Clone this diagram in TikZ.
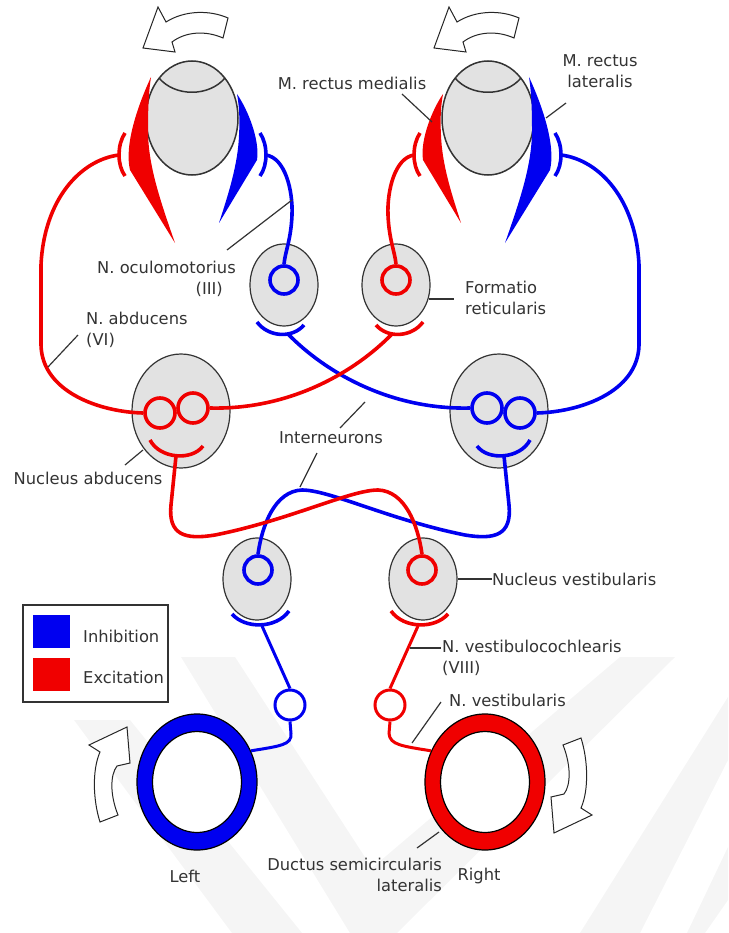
\documentclass[tikz,border=0pt]{standalone}
\usepackage{fontspec}
\setmainfont{DejaVu Sans}
\usetikzlibrary{shapes.geometric}
\definecolor{nblue}{HTML}{0000F0}
\definecolor{nred}{HTML}{F00000}
\definecolor{nucfill}{HTML}{E2E2E2}
\definecolor{textgray}{HTML}{333333}
\tikzset{
  nerve/.style={line width=3.6pt},
  nucleus/.style={ellipse, draw=black!80, line width=1.2pt, fill=nucfill, inner sep=0pt},
  soma/.style={circle, line width=3.6pt, inner sep=0pt, minimum size=28pt},
  ganglion/.style={circle, line width=3pt, fill=white, inner sep=0pt, minimum size=30pt},
  canal/.style={ellipse, draw=black, line width=1.2pt, inner sep=0pt},
  leader/.style={line width=1.2pt, draw=textgray},
  lbl/.style={font=\fontsize{16.3}{21}\selectfont, text=textgray, inner sep=0pt},
  turn/.style={draw=black!85, fill=white, line width=1pt},
  stamp/.style={fill=black!4, draw=none},
}

\begin{document}
\begin{tikzpicture}[x=1pt, y=-1pt]
  \useasboundingbox (0,0) rectangle (728,933);

  % faint stamp behind the drawing
  \fill[stamp] (181,657) -- (235,657) -- (372,868) -- (620,657) -- (675,657)
    -- (397,933) -- (350,933) -- cycle;
  \fill[stamp] (74,720) -- (130,720) -- (302,933) -- (232,933) -- cycle;
  \fill[stamp] (728,697) -- (728,760) -- (640,933) -- (580,933) -- cycle;
  \fill[stamp] (728,847) -- (728,900) -- (705,933) -- (687,933) -- cycle;

  % eyes
  \node[nucleus, line width=1.5pt, minimum width=92pt, minimum height=114pt] (eyeL) at (192,118) {};
  \node[nucleus, line width=1.5pt, minimum width=92pt, minimum height=114pt] (eyeR) at (488,118) {};
  \draw[line width=1.5pt, black!80] (159,78) .. controls (175,97) and (209,97) .. (225,78);
  \draw[line width=1.5pt, black!80] (455,78) .. controls (471,97) and (505,97) .. (521,78);

  % eye muscles
  \fill[nred] (151,77) .. controls (138,105) and (124,145) .. (130,170) -- (175,243)
    .. controls (160,200) and (148,165) .. (148,130) .. controls (148,105) and (149,90) .. (151,77) -- cycle;
  \fill[nblue] (237,94) .. controls (248,110) and (260,140) .. (257,160) -- (219,223)
    .. controls (228,195) and (238,165) .. (239,135) .. controls (240,118) and (239,105) .. (237,94) -- cycle;
  \fill[nred] (443,94) .. controls (432,110) and (420,140) .. (423,160) -- (461,223)
    .. controls (452,195) and (442,165) .. (441,135) .. controls (440,118) and (441,105) .. (443,94) -- cycle;
  \fill[nblue] (529,77) .. controls (542,105) and (556,145) .. (550,170) -- (505,243)
    .. controls (520,200) and (532,165) .. (532,130) .. controls (532,105) and (531,90) .. (529,77) -- cycle;

  % motor end plates
  \draw[nerve, nred] (125,133) .. controls (117,145) and (117,165) .. (125,176);
  \draw[nerve, nblue] (260,133) .. controls (268,145) and (268,165) .. (260,176);
  \draw[nerve, nred] (420,133) .. controls (412,145) and (412,165) .. (420,176);
  \draw[nerve, nblue] (555,133) .. controls (563,145) and (563,165) .. (555,176);

  % nuclei
  \node[nucleus, minimum width=98pt, minimum height=114pt] (abdL) at (181,411) {};
  \node[nucleus, minimum width=98pt, minimum height=114pt] (abdR) at (499,411) {};
  \node[nucleus, minimum width=68pt, minimum height=82pt] (ocu) at (284,285) {};
  \node[nucleus, minimum width=68pt, minimum height=82pt] (ret) at (396,285) {};
  \node[nucleus, minimum width=68pt, minimum height=82pt] (vesL) at (257,579) {};
  \node[nucleus, minimum width=68pt, minimum height=82pt] (vesR) at (423,579) {};

  \node[soma, minimum size=30pt, draw=nred] (abdLa) at (160,413) {};
  \node[soma, minimum size=30pt, draw=nred] (abdLb) at (193,408) {};
  \node[soma, minimum size=30pt, draw=nblue] (abdRa) at (487,408) {};
  \node[soma, minimum size=30pt, draw=nblue] (abdRb) at (520,413) {};
  \node[soma, draw=nblue] (ocuS) at (284,280) {};
  \node[soma, draw=nred] (retS) at (396,280) {};
  \node[soma, draw=nblue] (vesLs) at (258,570) {};
  \node[soma, draw=nred] (vesRs) at (422,570) {};

  % synapses under the nuclei
  \draw[nerve, nred] (150,440) .. controls (160,459) and (192,461) .. (203,446);
  \draw[nerve, nblue] (530,440) .. controls (520,459) and (488,461) .. (477,446);
  \draw[nerve, nblue] (257,322) .. controls (268,337) and (292,339) .. (304,325);
  \draw[nerve, nred] (423,322) .. controls (412,337) and (388,339) .. (376,325);
  \draw[nerve, nblue] (232,614) .. controls (245,629) and (276,629) .. (289,611);
  \draw[nerve, nred] (448,614) .. controls (435,629) and (404,629) .. (391,611);

  % nerves to the eye muscles
  \draw[nerve, nred] (119,155) .. controls (80,160) and (44,200) .. (41,265) -- (41,345)
    .. controls (42,392) and (100,412) .. (abdLa.180);
  \draw[nerve, nblue] (561,155) .. controls (600,160) and (636,200) .. (639,265) -- (639,345)
    .. controls (638,392) and (580,412) .. (abdRb.0);
  \draw[nerve, nblue] (266,155) .. controls (285,158) and (293,190) .. (292,215)
    .. controls (291,240) and (285,252) .. (ocuS.90);
  \draw[nerve, nred] (414,155) .. controls (395,158) and (387,190) .. (388,215)
    .. controls (389,240) and (395,252) .. (retS.90);

  % interneurons
  \draw[nerve, nblue] (288,334) .. controls (325,372) and (390,410) .. (abdRa.180);
  \draw[nerve, nred] (392,334) .. controls (355,372) and (290,410) .. (abdLb.0);
  \draw[nerve, nblue] (504,456) -- (509,505) .. controls (512,535) and (495,540) .. (465,535)
    .. controls (390,520) and (330,490) .. (302,490) .. controls (275,491) and (262,525) .. (vesLs.north);
  \draw[nerve, nred] (176,456) -- (171,505) .. controls (168,535) and (185,540) .. (215,535)
    .. controls (290,520) and (350,490) .. (378,490) .. controls (405,491) and (418,525) .. (vesRs.north);

  % semicircular canals and vestibular ganglia
  \node[canal, fill=nblue, minimum width=120pt, minimum height=136pt] (ringL) at (197,782) {};
  \node[canal, fill=white, minimum width=89pt, minimum height=101pt] (ringLin) at (197,782) {};
  \node[canal, fill=nred, minimum width=120pt, minimum height=136pt] (ringR) at (485,782) {};
  \node[canal, fill=white, minimum width=89pt, minimum height=101pt] (ringRin) at (485,782) {};

  \node[ganglion, draw=nblue] (gL) at (290,705) {};
  \node[ganglion, draw=nred] (gR) at (390,705) {};
  \draw[nerve, line width=3pt, nblue] (262,626) -- (gL.north);
  \draw[nerve, line width=3pt, nred] (418,626) -- (gR.north);
  \draw[nerve, line width=3pt, nblue] (gL.south) -- ++(1,12)
    .. controls (292,745) and (280,746) .. (ringL.30);
  \draw[nerve, line width=3pt, nred] (gR.south) -- ++(-1,12)
    .. controls (390,745) and (402,746) .. (ringR.150);

  % rotation arrows
  \draw[turn] (143,48) -- (158,7) -- (166,22) .. controls (185,10) and (210,10) .. (228,18)
    -- (223,38) .. controls (205,30) and (185,32) .. (172,42) -- (175,52) -- cycle;
  \begin{scope}[shift={(291,0)}]
    \draw[turn] (143,48) -- (158,7) -- (166,22) .. controls (185,10) and (210,10) .. (228,18)
      -- (223,38) .. controls (205,30) and (185,32) .. (172,42) -- (175,52) -- cycle;
  \end{scope}
  \draw[turn] (127,727) -- (89,745) -- (100,752) .. controls (92,770) and (93,800) .. (100,822)
    -- (118,815) .. controls (110,795) and (110,775) .. (117,766) -- (130,763) -- cycle;
  \begin{scope}[rotate around={180:(340.5,780)}]
    \draw[turn] (127,727) -- (89,745) -- (100,752) .. controls (92,770) and (93,800) .. (100,822)
      -- (118,815) .. controls (110,795) and (110,775) .. (117,766) -- (130,763) -- cycle;
  \end{scope}

  % labels
  \node[lbl] (medialis) at (352,83) {M. rectus medialis};
  \draw[leader] (402,94) -- (432,122);
  \node[lbl, align=center] (lateralis) at (600,71) {M. rectus\\lateralis};
  \draw[leader] (566,103) -- (546,118);
  \node[lbl, align=right, anchor=east] (oculomot) at (236,279) {N. oculomotorius\\(III)\hspace*{13pt}};
  \draw[leader] (227,250) -- (292,200);
  \node[lbl, align=left, anchor=west] (abducens) at (86,330) {N. abducens\\(VI)};
  \draw[leader] (78,335) -- (48,367);
  \node[lbl, align=left, anchor=west] (formatio) at (465,298) {Formatio\\reticularis};
  \draw[leader] (429,299) -- (454,299);
  \node[lbl] (nucabd) at (88,478) {Nucleus abducens};
  \draw[leader] (125,465) -- (143,450);
  \node[lbl] (inter) at (331,438) {Interneurons};
  \draw[leader] (340,428) -- (365,402);
  \draw[leader] (317,453) -- (300,487);
  \node[lbl, anchor=west] (nucves) at (492,579) {Nucleus vestibularis};
  \draw[leader] (vesR.east) -- (nucves.west);
  \node[lbl, align=left, anchor=west] (vestcoch) at (442,658) {N. vestibulocochlearis\\(VIII)};
  \draw[leader] (410,648) -- (441,648);
  \node[lbl, anchor=west] (vestib) at (449,700) {N. vestibularis};
  \draw[leader] (441,702) -- (412,743);
  \node[lbl, align=right, anchor=east] (ductus) at (442,875) {Ductus semicircularis\\lateralis};
  \draw[leader] (417,848) -- (439,832);
  \node[lbl] (left) at (185,876) {Left};
  \node[lbl] (right) at (479,876) {Right};

  % legend
  \node[draw=textgray, line width=1.5pt, inner sep=0pt, minimum width=145pt, minimum height=97pt] (legend) at (95.5,653.5) {};
  \node[fill=nblue, inner sep=0pt, minimum width=37pt, minimum height=33pt] (keyinh) at (51.5,631.5) {};
  \node[fill=nred, inner sep=0pt, minimum width=37pt, minimum height=33pt] (keyexc) at (51.5,674) {};
  \node[lbl, anchor=west] (inh) at (83,636) {Inhibition};
  \node[lbl, anchor=west] (exc) at (83,677) {Excitation};
\end{tikzpicture}
\end{document}
